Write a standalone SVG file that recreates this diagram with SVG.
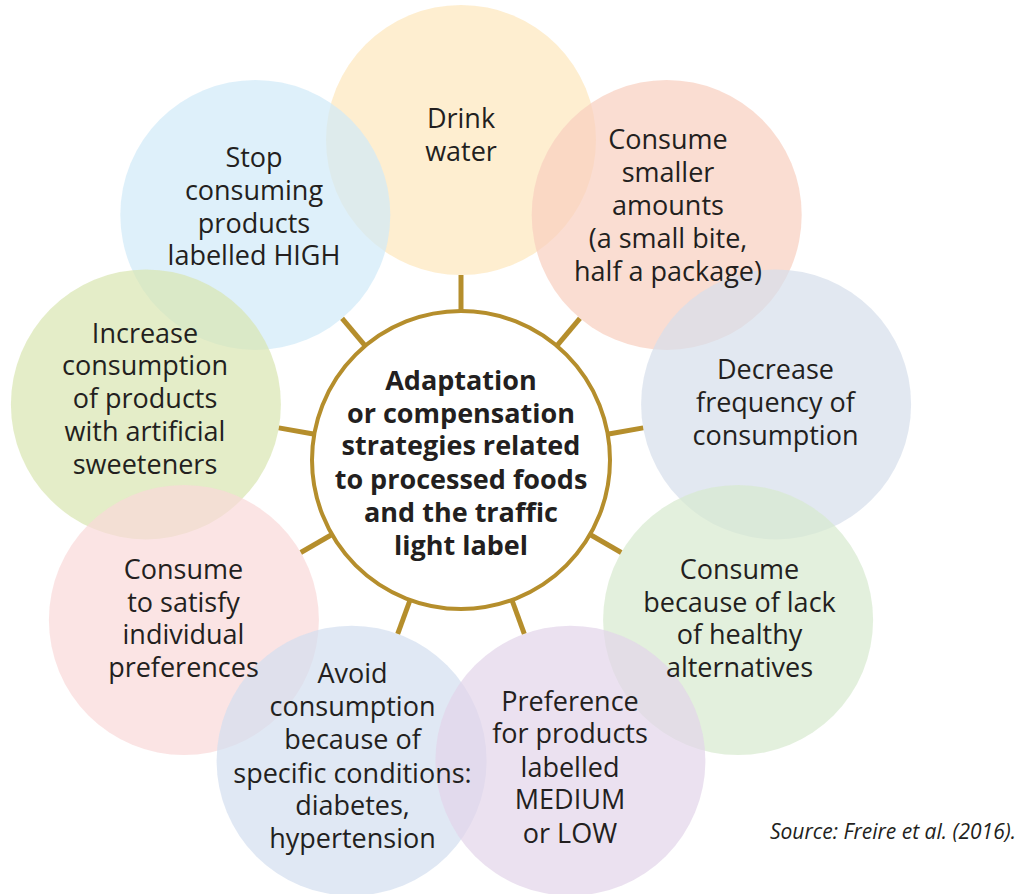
<svg xmlns="http://www.w3.org/2000/svg" width="1019" height="894" viewBox="0 0 1019 894">
<style>
.bub{fill-opacity:0.7}
.t{font-family:"Open Sans","Noto Sans",sans-serif;font-size:27px;fill:#231F20;text-anchor:middle}
.c{font-family:"Open Sans","Noto Sans",sans-serif;font-size:27px;font-weight:bold;fill:#231F20;text-anchor:middle}
.src{font-family:"Open Sans","Noto Sans",sans-serif;font-size:21px;font-style:italic;fill:#231F20;text-anchor:end}
.spoke{stroke:#B58E2C;stroke-width:5;fill:none}
</style>
<rect width="1019" height="894" fill="#FFFFFF"/>
<g id="bubbles">
<circle id="bubble-drink" class="bub" cx="461" cy="140" r="135" fill="#FEE7BC"/>
<circle id="bubble-stop" class="bub" cx="255.3" cy="214.9" r="135" fill="#D0EAF8"/>
<circle id="bubble-smaller" class="bub" cx="666.7" cy="214.9" r="135" fill="#F8CEBF"/>
<circle id="bubble-decrease" class="bub" cx="776.1" cy="404.4" r="135" fill="#D6DEEB"/>
<circle id="bubble-increase" class="bub" cx="145.9" cy="404.4" r="135" fill="#D8E5B0"/>
<circle id="bubble-lack" class="bub" cx="738.1" cy="620" r="135" fill="#D7EACE"/>
<circle id="bubble-satisfy" class="bub" cx="183.9" cy="620" r="135" fill="#F9D8D8"/>
<circle id="bubble-avoid" class="bub" cx="351.6" cy="760.7" r="135" fill="#D3DEEF"/>
<circle id="bubble-preference" class="bub" cx="570.4" cy="760.7" r="135" fill="#E2D4EA"/>
</g>
<g id="node-drink">
<text class="t"><tspan x="461" y="128">Drink</tspan><tspan x="461" y="161">water</tspan></text>
</g>
<g id="node-stop">
<text class="t"><tspan x="254" y="167">Stop</tspan><tspan x="254" y="200">consuming</tspan><tspan x="254" y="233">products</tspan><tspan x="254" y="265">labelled HIGH</tspan></text>
</g>
<g id="node-smaller">
<text class="t"><tspan x="668" y="149">Consume</tspan><tspan x="668" y="182">smaller</tspan><tspan x="668" y="215">amounts</tspan><tspan x="668" y="248">(a small bite,</tspan><tspan x="668" y="281">half a package)</tspan></text>
</g>
<g id="node-decrease">
<text class="t"><tspan x="775.5" y="379">Decrease</tspan><tspan x="775.5" y="412">frequency of</tspan><tspan x="775.5" y="445">consumption</tspan></text>
</g>
<g id="node-increase">
<text class="t"><tspan x="145" y="343">Increase</tspan><tspan x="145" y="375">consumption</tspan><tspan x="145" y="408">of products</tspan><tspan x="145" y="441">with artificial</tspan><tspan x="145" y="474">sweeteners</tspan></text>
</g>
<g id="node-lack">
<text class="t"><tspan x="739.5" y="579">Consume</tspan><tspan x="739.5" y="612">because of lack</tspan><tspan x="739.5" y="644">of healthy</tspan><tspan x="739.5" y="677">alternatives</tspan></text>
</g>
<g id="node-satisfy">
<text class="t"><tspan x="183.5" y="579">Consume</tspan><tspan x="183.5" y="612">to satisfy</tspan><tspan x="183.5" y="644">individual</tspan><tspan x="183.5" y="677">preferences</tspan></text>
</g>
<g id="node-avoid">
<text class="t"><tspan x="352.5" y="683">Avoid</tspan><tspan x="352.5" y="716">consumption</tspan><tspan x="352.5" y="749">because of</tspan><tspan x="352.5" y="783">specific conditions:</tspan><tspan x="352.5" y="815">diabetes,</tspan><tspan x="352.5" y="848">hypertension</tspan></text>
</g>
<g id="node-preference">
<text class="t"><tspan x="570" y="711">Preference</tspan><tspan x="570" y="743">for products</tspan><tspan x="570" y="777">labelled</tspan><tspan x="570" y="809">MEDIUM</tspan><tspan x="570" y="843">or LOW</tspan></text>
</g>
<g id="connectors">
<line class="spoke" x1="461" y1="310" x2="461" y2="275"/>
<line class="spoke" x1="557.4" y1="345.1" x2="579.9" y2="318.3"/>
<line class="spoke" x1="608.7" y1="434" x2="643.2" y2="427.9"/>
<line class="spoke" x1="590.9" y1="535" x2="621.2" y2="552.5"/>
<line class="spoke" x1="512.3" y1="601" x2="524.3" y2="633.8"/>
<line class="spoke" x1="409.7" y1="601" x2="397.7" y2="633.8"/>
<line class="spoke" x1="331.1" y1="535" x2="300.8" y2="552.5"/>
<line class="spoke" x1="313.3" y1="434" x2="278.8" y2="427.9"/>
<line class="spoke" x1="364.6" y1="345.1" x2="342.1" y2="318.3"/>
</g>
<g id="node-center">
<circle cx="461" cy="460" r="149" fill="#FFFFFF" stroke="#B58E2C" stroke-width="4"/>
<text class="c"><tspan x="461" y="390">Adaptation</tspan><tspan x="461" y="423">or compensation</tspan><tspan x="461" y="455">strategies related</tspan><tspan x="461" y="489">to processed foods</tspan><tspan x="461" y="522">and the traffic</tspan><tspan x="461" y="555">light label</tspan></text>
</g>
<text id="source" class="src" x="1016" y="839">Source: Freire et al. (2016).</text>
</svg>
